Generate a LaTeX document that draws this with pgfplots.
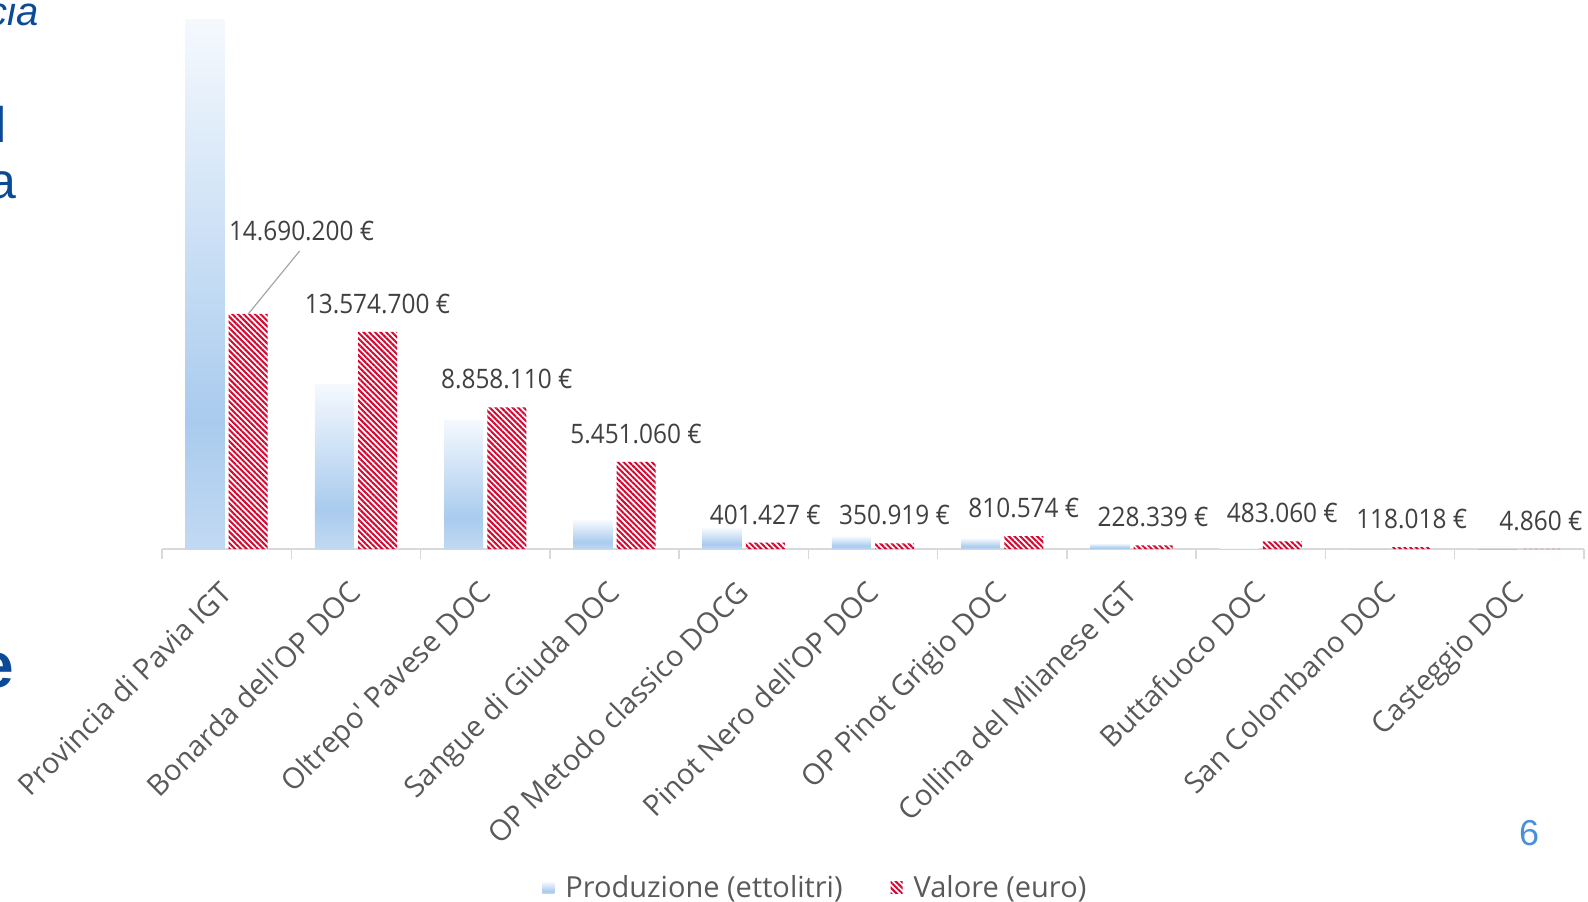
\documentclass[border=0pt]{standalone}
\usepackage{pgfplots}
\pgfplotsset{compat=1.18}
\usepackage{pgfplotstable}
\usetikzlibrary{patterns.meta}
\usepackage{fontspec}
\setmainfont{Open Sans}[Ligatures=TeXOff]
\newfontfamily\lblfont{Open Sans}[FakeStretch=0.91]
\newfontfamily\arialfont{Liberation Sans}
\definecolor{pbot}{HTML}{C2D9F2}
\definecolor{pmid}{HTML}{A9CBEE}
\definecolor{ptop}{HTML}{F5F9FE}
\definecolor{hred}{HTML}{D8062F}
\definecolor{lblgray}{HTML}{404040}
\definecolor{tickgray}{HTML}{595959}
\definecolor{axgray}{HTML}{D9D9D9}
\definecolor{leadgray}{HTML}{A6A6A6}
\definecolor{slideblue}{HTML}{0B4A96}
\definecolor{pageblue}{HTML}{4A90D9}
\pgfdeclareverticalshading{prodshade}{100bp}{color(0bp)=(pbot); color(25bp)=(pbot); color(37bp)=(pmid); color(75bp)=(ptop); color(100bp)=(ptop)}

\pgfplotstableread[col sep=comma]{
x,val,lab
0,14690200,14.690.200 €
1,13574700,13.574.700 €
2,8858110,8.858.110 €
3,5451060,5.451.060 €
4,401427,401.427 €
5,350919,350.919 €
6,810574,810.574 €
7,228339,228.339 €
8,483060,483.060 €
9,118018,118.018 €
10,4860,4.860 €
}\valtable

\pgfplotsset{prodbar/.style={ybar, bar width=19.5bp, bar shift=-10.8bp, draw=none, shade, shading=prodshade}}

\begin{document}
\begin{tikzpicture}
\path[use as bounding box] (0,0) rectangle (794bp,-451bp);
% fragments of the slide text cut by the left edge
\node[anchor=base east, inner sep=0pt, font=\arialfont\itshape\fontsize{20bp}{24bp}\selectfont, text=slideblue] at (19.5bp,-12.5bp) {Provincia};
\node[anchor=base east, inner sep=0pt, font=\arialfont\fontsize{25bp}{30bp}\selectfont, text=slideblue] at (3.6bp,-71bp) {l};
\node[anchor=base east, inner sep=0pt, font=\arialfont\fontsize{25bp}{30bp}\selectfont, text=slideblue] at (8.4bp,-99bp) {a};
\node[anchor=base east, inner sep=0pt, font=\arialfont\bfseries\fontsize{32bp}{36bp}\selectfont, text=slideblue] at (7.2bp,-343.6bp) {e};
\node[font=\arialfont\fontsize{18bp}{20bp}\selectfont, text=pageblue, inner sep=0pt] at (764.5bp,-416.3bp) {6};

% Produzione axis
\begin{axis}[
  at={(81bp,-274.5bp)}, anchor=south west,
  scale only axis, width=711bp, height=264.5bp,
  xmin=-0.5, xmax=10.5, ymin=0, ymax=317400,
  clip=false,
  axis x line*=bottom, axis y line=none,
  x axis line style={-, draw=axgray, line width=0.75bp},
  xtick={0,...,10},
  xticklabels={Provincia di Pavia IGT, Bonarda dell'OP DOC, Oltrepo' Pavese DOC, Sangue di Giuda DOC, OP Metodo classico DOCG, Pinot Nero dell'OP DOC, OP Pinot Grigio DOC, Collina del Milanese IGT, Buttafuoco DOC, San Colombano DOC, Casteggio DOC},
  major tick length=0pt,
  minor xtick={-0.5,0.5,...,10.5},
  minor tick length=5bp,
  tick align=outside,
  minor tick style={draw=axgray, line width=0.75bp},
  xticklabel style={font=\fontsize{14.5bp}{17bp}\selectfont, text=tickgray, xshift=-4.3bp, yshift=-14.8bp, rotate=45, anchor=north east, inner sep=0pt},
]
\addplot[prodbar] coordinates {(0,317400)};
\addplot[prodbar] coordinates {(1,99000)};
\addplot[prodbar] coordinates {(2,77200)};
\addplot[prodbar] coordinates {(3,17000)};
\addplot[prodbar] coordinates {(4,12400)};
\addplot[prodbar] coordinates {(5,7400)};
\addplot[prodbar] coordinates {(6,6200)};
\addplot[prodbar] coordinates {(7,3300)};
\addplot[prodbar] coordinates {(8,600)};
\addplot[prodbar] coordinates {(9,150)};
\addplot[prodbar] coordinates {(10,30)};
\end{axis}

% Valore axis
\begin{axis}[
  at={(81bp,-274.5bp)}, anchor=south west,
  scale only axis, width=711bp, height=264.5bp,
  xmin=-0.5, xmax=10.5, ymin=0, ymax=33062500,
  clip=false, hide axis,
  legend style={at={(0.2672,-0.6408)}, anchor=west, draw=none, fill=none, inner sep=0pt,
    font=\fontsize{14.5bp}{17bp}\selectfont, text=tickgray,
    /tikz/every even column/.append style={column sep=22bp}},
  legend columns=2,
  legend image code/.code={\pgfpathrectangle{\pgfpoint{0bp}{-3bp}}{\pgfpoint{9.5bp}{6bp}}\pgfusepath{use as bounding box}\path[#1, draw=none] (0bp,-3bp) rectangle (6bp,3bp);},
]
\addlegendimage{shade, shading=prodshade}
\addlegendentry{Produzione (ettolitri)}
\addplot[ybar, bar width=19.5bp, bar shift=10.8bp, draw=none,
  pattern={Lines[angle=-45, distance=2bp, line width=1bp]}, pattern color=hred,
  point meta=explicit symbolic,
  nodes near coords,
  every node near coord/.append style={font=\lblfont\fontsize{13.4bp}{16bp}\selectfont, text=lblgray, anchor=center, xshift=10.8bp, yshift=14bp},
  coordinate style/.condition={x<0.5}{xshift=26.7bp, yshift=27.7bp},
] table[x=x, y=val, meta=lab] {\valtable};
\addlegendentry{Valore (euro)}
\draw[leadgray, line width=0.6bp] ([xshift=10.8bp]axis cs:0,14690200) -- ++(25.7bp,31.5bp);
\end{axis}
\end{tikzpicture}
\end{document}
